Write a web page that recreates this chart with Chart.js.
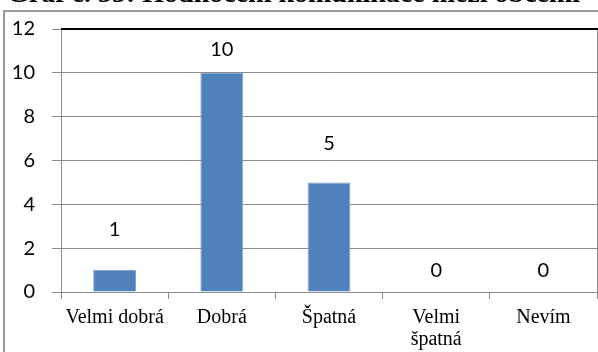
<!DOCTYPE html>
<html>
<head>
<meta charset="utf-8">
<script src="https://cdn.jsdelivr.net/npm/chart.js@4/dist/chart.umd.min.js"></script>
<style>
  html, body { margin: 0; padding: 0; background: #fff; }
  #wrap { width: 598px; height: 352px; position: relative; }
</style>
</head>
<body>
<div id="wrap"><canvas id="hodnoceni-chart" width="598" height="352"></canvas></div>
<script>
// Hodnocení komunikace – počty odpovědí
var kategorie = [['Velmi dobrá'], ['Dobrá'], ['Špatná'], ['Velmi', 'špatná'], ['Nevím']];
var pocty = [1, 10, 5, 0, 0];
var osaY = [0, 2, 4, 6, 8, 10, 12];
var nadpis = 'Graf č. 33: Hodnocení komunikace mezi obcemi';

var sedaCara = '#8c8c8c';
// odsazení popisků nad horní hranou sloupce (px)
var odsazeniPopisku = [41, 23, 39, 21, 21];

// rámeček, nadpis a hodnoty nad sloupci
var doplnky = {
  id: 'doplnky',
  beforeDraw: function (chart) {
    var ctx = chart.ctx;
    ctx.save();
    ctx.fillStyle = '#000';
    ctx.font = 'bold 28px "Liberation Serif"';
    ctx.textBaseline = 'alphabetic';
    ctx.fillText(nadpis, 7, 2);
    ctx.strokeStyle = '#9a9a9a';
    ctx.lineWidth = 2;
    ctx.beginPath();
    ctx.moveTo(4, 352);
    ctx.lineTo(4, 11);
    ctx.lineTo(598, 11);
    ctx.stroke();
    ctx.restore();
  },
  afterDatasetsDraw: function (chart) {
    var ctx = chart.ctx;
    var area = chart.chartArea;
    ctx.save();
    // pravý okraj grafu a horní čára
    ctx.strokeStyle = sedaCara;
    ctx.lineWidth = 1;
    ctx.beginPath();
    ctx.moveTo(area.right + 0.5, area.top);
    ctx.lineTo(area.right + 0.5, area.bottom);
    ctx.stroke();
    ctx.strokeStyle = '#000';
    ctx.lineWidth = 2;
    ctx.beginPath();
    ctx.moveTo(area.left, area.top);
    ctx.lineTo(598, area.top);
    ctx.stroke();
    // popisky hodnot
    ctx.fillStyle = '#000';
    ctx.font = '20px Lato';
    ctx.textAlign = 'center';
    ctx.textBaseline = 'middle';
    chart.getDatasetMeta(0).data.forEach(function (bar, i) {
      ctx.fillText(String(pocty[i]), bar.x, bar.y - odsazeniPopisku[i]);
    });
    ctx.restore();
  }
};

var ctx = document.getElementById('hodnoceni-chart').getContext('2d');
var graf = new Chart(ctx, {
  type: 'bar',
  data: {
    labels: kategorie,
    datasets: [{
      data: pocty,
      backgroundColor: '#4f81bd',
      borderColor: '#7fa3cf',
      borderWidth: 1,
      barPercentage: 0.4,
      categoryPercentage: 1
    }]
  },
  options: {
    responsive: false,
    animation: false,
    layout: { padding: { left: 0, right: 1, top: 27, bottom: 0 } },
    plugins: {
      legend: { display: false },
      tooltip: { enabled: false }
    },
    scales: {
      x: {
        afterFit: function (scale) { scale.height = 60; },
        grid: {
          offset: true,
          drawOnChartArea: false,
          tickLength: 7,
          tickColor: sedaCara
        },
        border: { color: sedaCara, width: 1 },
        ticks: {
          color: '#000',
          padding: 8,
          maxRotation: 0,
          font: { family: '"Liberation Serif"', size: 20, lineHeight: 1.1 }
        }
      },
      y: {
        min: 0,
        max: 12,
        afterFit: function (scale) { scale.width = 61; },
        afterBuildTicks: function (scale) {
          scale.ticks = osaY.map(function (v) { return { value: v }; });
        },
        grid: {
          color: sedaCara,
          tickColor: sedaCara,
          tickLength: 9,
          lineWidth: 1
        },
        border: { color: sedaCara, width: 1 },
        ticks: {
          color: '#000',
          padding: 17,
          font: { family: 'Lato', size: 20 }
        }
      }
    }
  },
  plugins: [doplnky]
});
</script>
</body>
</html>
